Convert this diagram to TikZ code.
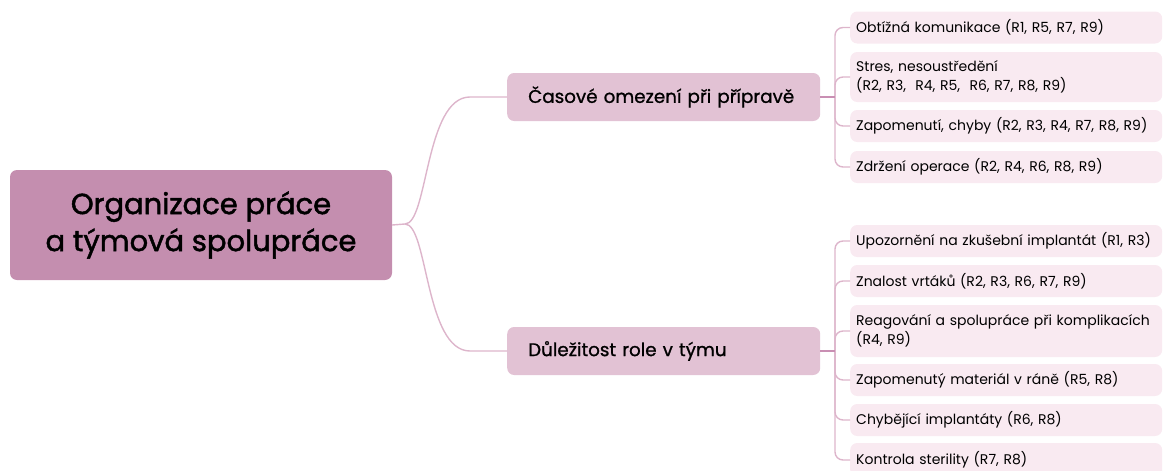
\documentclass[tikz,border=0pt]{standalone}
\usepackage{fontspec}
\setmainfont{Poppins}
\newfontfamily\heavyfont{Poppins}[FakeBold=1.6]
\newfontfamily\midfont{Poppins}[FakeBold=1.0]

\definecolor{rootpink}{HTML}{C48EAF}
\definecolor{branchpink}{HTML}{E2C2D4}
\definecolor{leafpink}{HTML}{F9EAF1}
\definecolor{linkpink}{HTML}{DDB5CB}
\definecolor{stubpink}{HTML}{C98FB3}

\tikzset{
  rootbox/.style={fill=rootpink, rounded corners=7pt, minimum width=382pt, minimum height=110pt,
    align=center, font=\heavyfont\fontsize{29}{37}\selectfont},
  branchbox/.style={fill=branchpink, rounded corners=7pt, minimum height=48pt, text width=271pt,
    inner xsep=21pt, align=left, anchor=west, font=\midfont\fontsize{18.3}{22}\selectfont},
  leafbox/.style={fill=leafpink, rounded corners=7pt, minimum height=32pt, text width=300pt,
    inner xsep=6pt, align=left, anchor=west, font=\fontsize{14}{19}\selectfont},
  link/.style={draw=linkpink, line width=1.4pt},
  stub/.style={draw=stubpink, line width=1.6pt}
}

\begin{document}
\begin{tikzpicture}[x=1pt,y=-1pt]
        \useasboundingbox (0,0) rectangle (1168,471);
        \clip (0,0) rectangle (1168,471);

        % main topic and the two subtopics
        \node[rootbox] (root) at (201,225) {Organizace práce\\a týmová spolupráce};
        \node[branchbox] (time) at (507,97) {Časové omezení při přípravě};
        \node[branchbox] (role) at (507,351) {Důležitost role v týmu};

        % leaves of the first subtopic
        \node[leafbox] (t1) at (850,27.5) {Obtížná komunikace (R1, R5, R7, R9)};
        \node[leafbox, minimum height=50pt] (t2) at (850,77) {Stres, nesoustředění\\(R2, R3,~ R4, R5,~ R6, R7, R8, R9)};
        \node[leafbox] (t3) at (850,126) {Zapomenutí, chyby (R2, R3, R4, R7, R8, R9)};
        \node[leafbox] (t4) at (850,167) {Zdržení operace (R2, R4, R6, R8, R9)};

        % leaves of the second subtopic
        \node[leafbox] (r1) at (850,241) {Upozornění na zkušební implantát (R1, R3)};
        \node[leafbox] (r2) at (850,281) {Znalost vrtáků (R2, R3, R6, R7, R9)};
        \node[leafbox, minimum height=52pt] (r3) at (850,331) {Reagování a spolupráce při komplikacích\\(R4, R9)};
        \node[leafbox] (r4) at (850,380) {Zapomenutý materiál v ráně (R5, R8)};
        \node[leafbox] (r5) at (850,420) {Chybějící implantáty (R6, R8)};
        \node[leafbox, minimum height=34pt] (r6) at (850,460) {Kontrola sterility (R7, R8)};

        % connectors
        \coordinate (fork) at (405,224);
        \coordinate (tspine) at (835,97);
        \coordinate (rspine) at (835,351);
        \draw[link] (root.east) -- (fork);
        \draw[link] (fork) .. controls (428,224) and (425,97) .. (470,97) -- (time.west);
        \draw[link] (fork) .. controls (428,224) and (425,351) .. (470,351) -- (role.west);
        \foreach \leaf in {t1,t2,t3,t4}
            \draw[link, rounded corners=8pt] (tspine) |- (\leaf.west);
        \foreach \leaf in {r1,r2,r3,r4,r5,r6}
            \draw[link, rounded corners=8pt] (rspine) |- (\leaf.west);
        \draw[stub] (time.east) -- (tspine);
        \draw[stub] (role.east) -- (rspine);
    \end{tikzpicture}
\end{document}
